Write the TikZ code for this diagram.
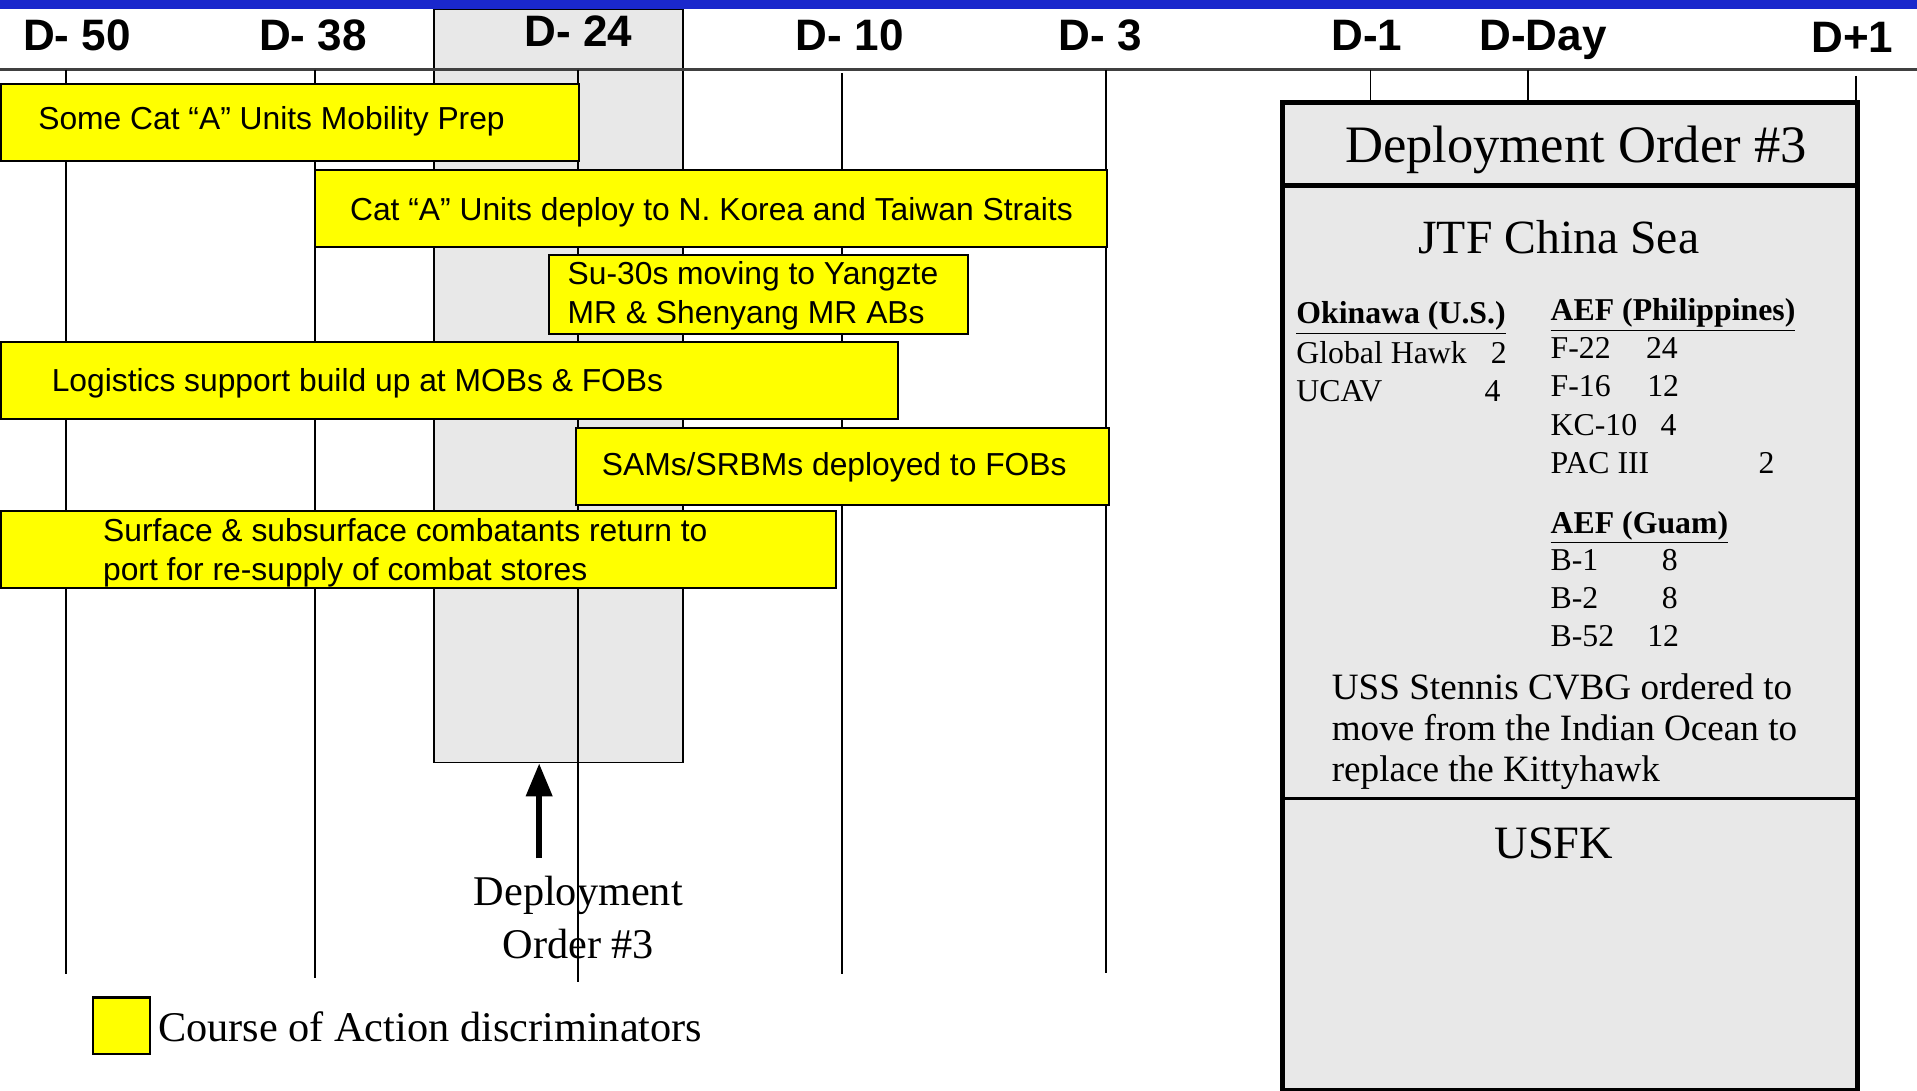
\documentclass[tikz,border=0pt]{standalone}
\usepackage{fontspec}
\setmainfont{Liberation Serif}
\newfontfamily\arialf{Liberation Sans}
\usetikzlibrary{calc,arrows.meta}
\definecolor{topblue}{RGB}{26,40,204}
\definecolor{bandgray}{RGB}{232,232,232}
\definecolor{ylw}{RGB}{255,255,0}
\begin{document}
\begin{tikzpicture}[x=0.02cm,y=-0.02cm,
  hdr/.style={font=\arialf\bfseries\fontsize{20.5}{24}\selectfont, anchor=base, inner sep=0},
  ybox/.style={draw=black, line width=1pt, fill=ylw, anchor=north west, inner sep=0},
  ytext/.style={font=\arialf\fontsize{14.8}{17}\selectfont, anchor=base west, inner sep=0},
  tline/.style={line width=0.9pt, draw=black},
  body/.style={font=\fontsize{14.8}{17}\selectfont, anchor=base west, inner sep=0},
  uss/.style={font=\fontsize{17.3}{19}\selectfont, anchor=base west, inner sep=0},
  big/.style={font=\fontsize{19.7}{22}\selectfont, inner sep=0}
]
\useasboundingbox (0,0) rectangle (1568,892);
\fill[white] (0,0) rectangle (1568,892);

% grey band
\node[draw=black, line width=0.9pt, fill=bandgray, anchor=north west, inner sep=0,
      minimum width=4.08cm, minimum height=12.32cm] (band) at (354,7) {};

% header rule
\draw[line width=1.2pt, black!75] (0,57) -- (1568,57);

% time lines
\draw[tline] (54,57) -- (54,797);
\draw[tline] (258,57) -- (258,800);
\draw[tline] (473,57) -- (473,803);
\draw[tline] (689,60) -- (689,797);
\draw[tline] (905,57) -- (905,796);
\draw[tline] (1121,57) -- (1121,82);
\draw[tline] (1250,57) -- (1250,82);
\draw[tline] (1518,62) -- (1518,82);

% header labels
\node[hdr] (h50) at (63,41) {D- 50};
\node[hdr] (h38) at (256,41) {D- 38};
\node[hdr] (h24) at (473,38) {D- 24};
\node[hdr] (h10) at (695,41) {D- 10};
\node[hdr] (h3) at (900,41) {D- 3};
\node[hdr] (h1) at (1118,41) {D-1};
\node[hdr] (hday) at (1262,41) {D-Day};
\node[hdr] (hp1) at (1515,43) {D+1};

% yellow boxes
\node[ybox, minimum width=9.46cm, minimum height=1.26cm] (b1) at (0,68) {};
\node[ytext] (t1) at (31,106) {Some Cat “A” Units Mobility Prep};
\node[ybox, minimum width=12.96cm, minimum height=1.26cm] (b2) at (257,138) {};
\node[ytext] (t2) at (286,180) {Cat “A” Units deploy to N. Korea and Taiwan Straits};
\node[ybox, minimum width=6.86cm, minimum height=1.28cm] (b3) at (448,208) {};
\node[ytext] (t3a) at (464,233) {Su-30s moving to Yangzte};
\node[ytext] (t3b) at (464,265) {MR \& Shenyang MR ABs};
\node[ybox, minimum width=14.68cm, minimum height=1.26cm] (b4) at (0,279) {};
\node[ytext] (t4) at (42,320) {Logistics support build up at MOBs \& FOBs};
\node[ybox, minimum width=8.72cm, minimum height=1.26cm] (b5) at (470,349) {};
\node[ytext] (t5) at (492,389) {SAMs/SRBMs deployed to FOBs};
\node[ybox, minimum width=13.66cm, minimum height=1.26cm] (b6) at (0,417) {};
\node[ytext] (t6a) at (84,443) {Surface \& subsurface combatants return to};
\node[ytext] (t6b) at (84,475) {port for re-supply of combat stores};

% deployment order box
\node[draw=black, line width=2.3pt, fill=bandgray, anchor=north west, inner sep=0,
      minimum width=9.40cm, minimum height=16.16cm] (dobox) at (1047,82) {};
\draw[line width=2.3pt] (dobox.west |- 0,152) -- (dobox.east |- 0,152);
\draw[line width=1.4pt] (dobox.west |- 0,653) -- (dobox.east |- 0,653);
\node[font=\fontsize{24.5}{28}\selectfont, anchor=base, inner sep=0] (dotitle) at (1289,133) {Deployment Order \#3};
\node[font=\fontsize{22.2}{26}\selectfont, anchor=base, inner sep=0] (jtf) at (1275,207) {JTF China Sea};

\node[body] (oki) at (1060,265) {\underline{\textbf{Okinawa (U.S.)}}};
\node[body] (gh) at (1060,297) {Global Hawk};
\node[body] (ghn) at (1219,297) {2};
\node[body] (ucav) at (1060,328) {UCAV};
\node[body] (ucavn) at (1214,328) {4};

\node[body] (aefp) at (1268,262) {\underline{\textbf{AEF (Philippines)}}};
\node[body] (f22) at (1268,293) {F-22};
\node[body] (f22n) at (1346,293) {24};
\node[body] (f16) at (1268,324) {F-16};
\node[body] (f16n) at (1347,324) {12};
\node[body] (kc10) at (1268,356) {KC-10};
\node[body] (kc10n) at (1358,356) {4};
\node[body] (pac) at (1268,387) {PAC III};
\node[body] (pacn) at (1438,387) {2};

\node[body] (aefg) at (1268,436) {\underline{\textbf{AEF (Guam)}}};
\node[body] (b1a) at (1268,467) {B-1};
\node[body] (b1n) at (1359,467) {8};
\node[body] (b2a) at (1268,498) {B-2};
\node[body] (b2n) at (1359,498) {8};
\node[body] (b52) at (1268,529) {B-52};
\node[body] (b52n) at (1347,529) {12};

\node[uss] (ussa) at (1089,572) {USS Stennis CVBG ordered to};
\node[uss] (ussb) at (1089,606) {move from the Indian Ocean to};
\node[uss] (ussc) at (1089,639) {replace the Kittyhawk};

\node[font=\fontsize{21.6}{25}\selectfont, anchor=base, inner sep=0] (usfk) at (1271,702) {USFK};

% arrow and label
\coordinate (arrowtail) at (441,702);
\draw[line width=2.5pt, -{Triangle[width=4.2mm,length=5.4mm]}] (arrowtail) -- (arrowtail |- band.south);
\node[big, anchor=base] (dep1) at (473,741) {Deployment};
\node[big, anchor=base] (dep2) at (473,784) {Order \#3};

% legend
\node[draw=black, line width=1pt, fill=ylw, anchor=north west, inner sep=0,
      minimum width=0.94cm, minimum height=0.92cm] (legbox) at (75,815) {};
\node[big, anchor=base west] (legtext) at (129,852) {Course of Action discriminators};

% top blue bar
\fill[topblue] (0,0) rectangle (1568,7);
\end{tikzpicture}
\end{document}
